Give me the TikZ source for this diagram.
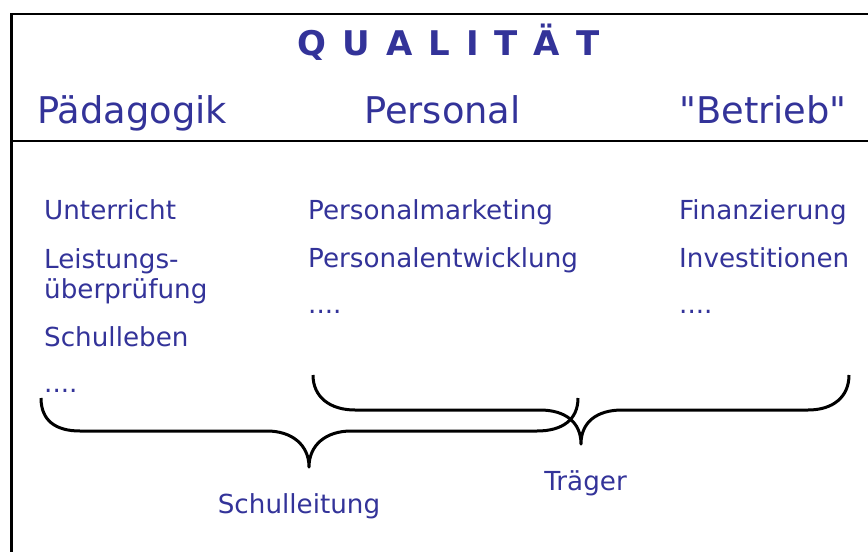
\documentclass[tikz,border=0pt]{standalone}
\usepackage{fontspec}
\setmainfont{DejaVu Sans}
\usepackage{xcolor}
\definecolor{qblue}{RGB}{51,51,153}
\usepackage{tikz}

\newcommand{\spaced}[1]{{\spaceskip=16pt\relax #1}}

\begin{document}
\begin{tikzpicture}[x=1pt, y=-1pt,
      headline/.style={anchor=base, inner sep=0pt, text=qblue,
                    font=\fontsize{34}{40}\selectfont\bfseries},
      area/.style={anchor=base west, inner sep=0pt, text=qblue,
                   font=\fontsize{36.8}{42}\selectfont},
      item/.style={anchor=base west, inner sep=0pt, text=qblue, align=left,
                   font=\fontsize{26.2}{30}\selectfont},
      tag/.style={anchor=base, inner sep=0pt, text=qblue,
                  font=\fontsize{26.2}{30}\selectfont},
      frame/.style={line width=2.4pt, line cap=butt},
      curly/.style={line width=3pt, line join=round}
  ]
    \useasboundingbox (0,0) rectangle (868,552);

    % Rahmen und Trennlinie
    \draw[frame] (868,14) -- (11.5,14) -- (11.5,552);
    \draw[frame] (11.5,141) -- (868,141);

    % Kopf
    \node[headline] (qual) at (448.5,55) {\spaced{Q U A L I T Ä T}};
    \node[area] (paed) at (37,123)  {Pädagogik};
    \node[area] (pers) at (364,123) {Personal};
    \node[area] (betr) at (679,123) {\textquotedbl Betrieb\textquotedbl};

    % Pädagogik (zweizeilig: base = letzte Zeile)
    \node[item] (unt)  at (44,219) {Unterricht};
    \node[item] (leis) at (44,298) {Leistungs-\\überprüfung};
    \node[item] (leb)  at (44,346) {Schulleben};
    \node[item] (pdots) at (44,392) {....};

    % Personal
    \node[item] (pmk)  at (308,219) {Personalmarketing};
    \node[item] (pew)  at (308,267) {Personalentwicklung};
    \node[item] (rdots) at (308,313) {....};

    % Betrieb
    \node[item] (fin)  at (679,219) {Finanzierung};
    \node[item] (inv)  at (679,267) {Investitionen};
    \node[item] (bdots) at (679,313) {....};

    % Klammern
    \draw[curly] (41,398) .. controls (41,420) and (55,431) .. (80,431) -- (267,431)
      .. controls (292,431) and (309,445) .. (309,467)
      .. controls (309,445) and (326,431) .. (351,431) -- (537,431)
      .. controls (562,431) and (578,420) .. (578,398);
    \draw[curly] (313,375) .. controls (313,397) and (330,410) .. (355,410) -- (540,410)
      .. controls (565,410) and (581,422) .. (581,444)
      .. controls (581,422) and (597,410) .. (622,410) -- (808,410)
      .. controls (833,410) and (849,397) .. (849,375);

    \node[tag] (sl) at (299,513) {Schulleitung};
    \node[tag] (tr) at (585.5,490) {Träger};
  \end{tikzpicture}
\end{document}
